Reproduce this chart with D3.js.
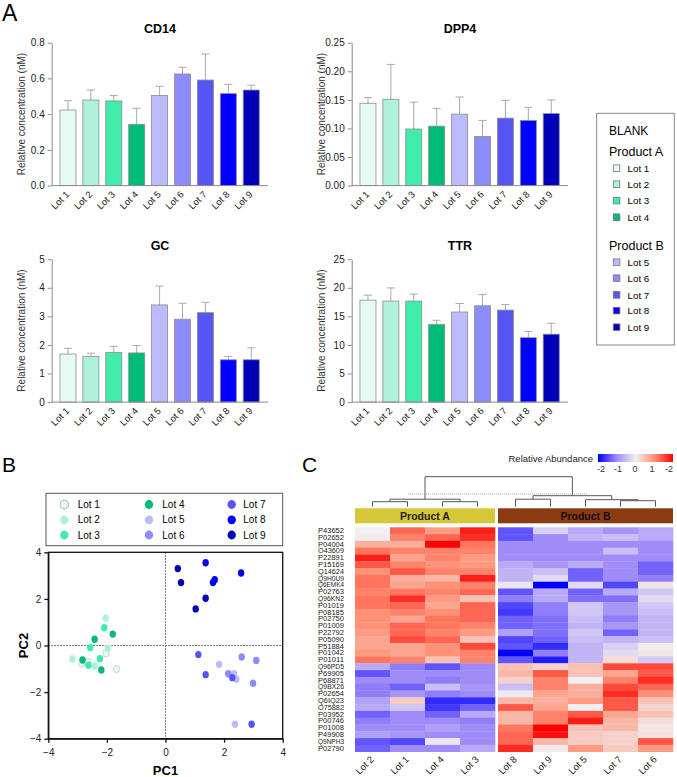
<!DOCTYPE html>
<html>
<head>
<meta charset="utf-8">
<script src="https://cdn.jsdelivr.net/npm/d3@7"></script>
<style>
  body { margin: 0; background: #fff; }
  svg { font-family: "Liberation Sans", Arial, sans-serif; }
</style>
</head>
<body>
<svg id="fig" width="677" height="777"></svg>
<script>
// ---- data ----
const lots = ["Lot 1", "Lot 2", "Lot 3", "Lot 4", "Lot 5", "Lot 6", "Lot 7", "Lot 8", "Lot 9"];

const cd14Mean = [0.423, 0.479, 0.474, 0.343, 0.505, 0.625, 0.591, 0.515, 0.535];
const cd14Sd   = [0.052, 0.056, 0.031, 0.090, 0.051, 0.037, 0.146, 0.052, 0.027];
const dpp4Mean = [0.144, 0.151, 0.099, 0.104, 0.125, 0.086, 0.118, 0.114, 0.126];
const dpp4Sd   = [0.010, 0.061, 0.047, 0.031, 0.030, 0.028, 0.031, 0.023, 0.024];
const gcMean   = [1.68, 1.60, 1.74, 1.72, 3.40, 2.90, 3.13, 1.48, 1.48];
const gcSd     = [0.20, 0.11, 0.21, 0.26, 0.66, 0.56, 0.36, 0.12, 0.42];
const ttrMean  = [17.84, 17.67, 17.67, 13.56, 15.76, 16.85, 16.10, 11.26, 11.88];
const ttrSd    = [0.86, 2.30, 1.21, 0.75, 1.49, 1.96, 0.98, 1.09, 1.91];

const cd14Ticks = [0, 0.2, 0.4, 0.6, 0.8];
const dpp4Ticks = [0, 0.05, 0.10, 0.15, 0.20, 0.25];
const gcTicks   = [0, 1, 2, 3, 4, 5];
const ttrTicks  = [0, 5, 10, 15, 20, 25];

// PCA scores
const pcaLot = [1,1,1,1, 2,2,2,2, 3,3,3,3, 4,4,4,4, 5,5,5,5, 6,6,6,6, 7,7,7,7, 8,8,8,8, 9,9,9,9];
const pc1 = [-2.03,-2.86,-1.67,-2.65, -2.04,-1.97,-3.18,-2.42, -2.09,-2.57,-2.24,-2.63, -1.80,-2.42,-2.83,-2.19,
             1.83,2.34,2.42,2.37, 2.14,2.60,3.10,2.99, 1.12,1.37,2.28,2.94, 1.37,2.58,1.62,1.68, 0.42,0.53,1.37,1.03];
const pc2 = [-0.34,-0.77,-1.01,-0.70, 1.17,-0.12,-0.58,-0.88, 0.76,-0.09,-0.57,-0.85, 0.49,0.27,-0.62,-1.05,
             -0.81,-1.21,-1.45,-3.38, -1.21,-0.49,-0.64,-1.62, -0.39,-1.25,-1.38,-3.38, 3.55,3.11,2.70,2.82, 3.30,2.70,2.03,1.57];
const pcTicks = [-4, -2, 0, 2, 4];

// heatmap
const proteins = ["P43652","P02652","P04004","O43609","P22891","P15169","Q14624","Q9H0U9","Q6EMK4","P02763",
  "Q96KN2","P01019","P08185","P02750","P01009","P22792","P05090","P51884","P01042","P01011",
  "Q96PD5","P69905","P68871","Q9BX26","P02654","Q6IQ23","O75882","P03952","P00746","P01008","P49908","Q9NPH3","P02790"];
const colsA = ["Lot 2", "Lot 1", "Lot 4", "Lot 3"];
const colsB = ["Lot 8", "Lot 9", "Lot 5", "Lot 7", "Lot 6"];
const heatA = [
  [0.0,1.3,0.9,1.8],[0.05,1.1,1.3,1.7],[0.7,0.7,2.0,1.2],[1.2,1.1,1.1,1.1],[1.8,0.8,1.1,0.9],
  [1.4,1.1,1.0,0.9],[1.0,1.4,1.1,1.1],[1.2,0.7,0.6,1.8],[1.2,0.8,1.0,1.1],[1.1,1.2,1.1,1.3],
  [1.2,1.7,0.9,0.5],[1.2,1.3,0.8,1.3],[1.0,1.1,1.0,1.3],[1.0,0.8,1.2,1.3],[1.0,1.3,1.2,1.1],
  [0.9,1.3,1.1,0.9],[0.8,1.5,1.3,0.5],[0.8,0.8,1.0,1.5],[0.9,0.8,1.0,1.1],[1.2,1.1,0.5,1.1],
  [-0.7,-1.1,-1.4,-1.0],[-1.4,-1.0,-1.0,-1.0],[-1.0,-1.0,-1.1,-1.0],[-1.1,-1.3,-0.5,-0.9],[-1.1,-0.9,-1.1,-1.0],
  [-0.8,0.4,-1.7,-1.7],[-0.7,-0.4,-1.6,-1.3],[-1.3,-1.0,-1.3,-0.7],[-1.1,-1.0,-1.0,-1.1],[-1.0,-1.0,-0.8,-1.0],
  [-0.8,-0.9,-1.0,-1.0],[-1.4,-1.5,-0.1,-1.0],[-1.3,-1.0,-1.0,-0.7]
];
const heatB = [
  [-1.4,-0.3,-0.7,-0.9,-0.7],[-1.4,-1.0,-0.6,-0.5,-0.7],[-1.0,-1.0,-1.0,-1.0,-1.0],[-1.0,-1.0,-1.0,-0.5,-1.0],
  [-1.0,-1.0,-1.0,-1.0,-1.0],[-0.7,-0.9,-0.7,-1.0,-1.3],[-0.6,-0.5,-1.3,-1.0,-1.3],[-0.6,-0.2,-1.3,-1.0,-1.1],
  [-0.1,-2.0,-0.2,-1.5,0.1],[-1.4,-0.7,-1.3,-0.7,-0.4],[-1.1,-0.7,-1.2,-1.2,-0.2],[-1.5,-1.1,-0.4,-0.9,-0.4],
  [-1.6,-1.1,-0.4,-0.9,-0.5],[-1.3,-1.2,-0.5,-1.1,-0.6],[-1.3,-1.2,-0.6,-0.9,-0.6],[-0.8,-1.2,-0.4,-1.3,-0.6],
  [-1.5,-1.3,-0.5,-0.6,-0.5],[-1.4,-1.7,-0.6,-0.3,0.05],[-2.0,-1.1,-0.6,-0.2,0.1],[-1.4,-1.8,-0.6,0.2,-0.4],
  [0.5,0.3,0.5,1.5,1.5],[0.6,1.4,0.5,0.8,1.4],[0.3,1.1,0.0,1.1,1.7],[-0.5,1.1,0.7,1.5,1.3],
  [-0.05,0.8,0.7,1.7,1.0],[0.6,0.7,0.9,1.4,0.5],[1.4,0.8,0.0,1.4,0.3],[0.6,1.1,1.4,0.8,0.5],
  [0.6,1.1,1.8,0.6,0.2],[1.2,2.0,0.5,0.6,0.1],[1.3,1.9,0.4,0.3,0.15],[1.3,0.6,0.4,0.3,1.4],[1.7,0.05,0.9,0.4,0.9]
];
// dendrogram (merge heights)
const dendro = {h: 6, children: [
  {h: 1.5, children: [{h: 1, children: [{name: "Lot 2"}, {name: "Lot 1"}]}, {h: 1, children: [{name: "Lot 4"}, {name: "Lot 3"}]}]},
  {h: 2.2, children: [{h: 1.5, children: [{name: "Lot 8"}, {name: "Lot 9"}]},
                      {h: 1.4, children: [{name: "Lot 5"}, {h: 1.2, children: [{name: "Lot 7"}, {name: "Lot 6"}]}]}]}
]};
const cutHeight = 2.54;
const scaleLabels = ["-2", "-1", "0", "1", "-2"];

// ---- styles ----
const lotColor = ["#e6fbf3", "#aef2dc", "#3fecab", "#00bb77", "#bcbcfc", "#8c8cfc", "#5555f5", "#0000ff", "#0000b8"];
const axisGrey = "#8a8a8a";

const svg = d3.select("#fig");
svg.append("rect").attr("width", 677).attr("height", 777).attr("fill", "#fff");

// panel letters
svg.append("text").attr("x", 2).attr("y", 21).attr("font-size", 23).text("A");
svg.append("text").attr("x", 2).attr("y", 472).attr("font-size", 21).text("B");
svg.append("text").attr("x", 302).attr("y", 472).attr("font-size", 21).text("C");

// ---- bar charts ----
function drawBar(title, means, sds, ticks, fmt, dx, dy) {
  const g = svg.append("g").attr("transform", `translate(${dx},${dy})`);
  const x = d3.scaleBand().domain(lots).range([51.7, 267.5]).paddingInner(0.3).paddingOuter(0.36);
  const y = d3.scaleLinear().domain([0, d3.max(ticks)]).range([185.6, 42.7]);

  g.append("text").attr("x", 160).attr("y", 33).attr("text-anchor", "middle")
    .attr("font-size", 12.5).attr("font-weight", "bold").text(title);

  // error bars (upper only)
  g.selectAll(".err").data(lots).enter().append("g").each(function(d, i) {
    const cx = x(d) + x.bandwidth() / 2;
    const sel = d3.select(this);
    sel.append("line").attr("x1", cx).attr("x2", cx)
      .attr("y1", y(means[i])).attr("y2", y(means[i] + sds[i]))
      .attr("stroke", "#aaa").attr("stroke-width", 1);
    sel.append("line").attr("x1", cx - 4).attr("x2", cx + 4)
      .attr("y1", y(means[i] + sds[i])).attr("y2", y(means[i] + sds[i]))
      .attr("stroke", "#aaa").attr("stroke-width", 1);
  });

  g.selectAll(".bar").data(lots).enter().append("rect")
    .attr("x", d => x(d)).attr("width", x.bandwidth())
    .attr("y", (d, i) => y(means[i])).attr("height", (d, i) => y(0) - y(means[i]))
    .attr("fill", (d, i) => lotColor[i])
    .attr("stroke", "#8d8d8d").attr("stroke-width", 0.8);

  const ya = g.append("g").attr("transform", "translate(51.7,0)")
    .call(d3.axisLeft(y).tickValues(ticks).tickFormat(fmt).tickSize(4).tickSizeOuter(0));
  ya.select(".domain").attr("stroke", axisGrey);
  ya.selectAll(".tick line").attr("stroke", axisGrey);
  ya.selectAll(".tick text").attr("font-size", 10).attr("fill", "#222")
    .attr("font-family", "Liberation Sans, Arial, sans-serif");

  g.append("line").attr("x1", 51.7).attr("x2", 268).attr("y1", y(0)).attr("y2", y(0))
    .attr("stroke", axisGrey);

  g.selectAll(".xl").data(lots).enter().append("text")
    .attr("transform", d => `translate(${x(d) + x.bandwidth() / 2 + 2},${y(0) + 9.5}) rotate(-45)`)
    .attr("text-anchor", "end").attr("font-size", 9.5).attr("fill", "#222").text(d => d);

  g.append("text").attr("transform", `translate(25,114) rotate(-90)`)
    .attr("text-anchor", "middle").attr("font-size", 10).attr("fill", "#333")
    .text("Relative concentration (nM)");
}
drawBar("CD14", cd14Mean, cd14Sd, cd14Ticks, d3.format(".1f"), 0, 0);
drawBar("DPP4", dpp4Mean, dpp4Sd, dpp4Ticks, d3.format(".2f"), 300, 0);
drawBar("GC", gcMean, gcSd, gcTicks, d3.format("d"), 0, 216.5);
drawBar("TTR", ttrMean, ttrSd, ttrTicks, d3.format("d"), 300, 216.5);

// legend for bars
const leg = svg.append("g");
leg.append("rect").attr("x", 596.7).attr("y", 113.3).attr("width", 77.6).attr("height", 231.7)
  .attr("fill", "#fff").attr("stroke", "#888").attr("stroke-width", 1);
leg.append("text").attr("x", 609).attr("y", 134.5).attr("font-size", 12).text("BLANK");
leg.append("text").attr("x", 609).attr("y", 156).attr("font-size", 12.5).text("Product A");
leg.append("text").attr("x", 609).attr("y", 249.5).attr("font-size", 12.5).text("Product B");
const legY = [168.3, 184.3, 200.7, 217.3, 262.3, 278.3, 295, 310.7, 327.3];
lots.forEach((l, i) => {
  leg.append("rect").attr("x", 613.3).attr("y", legY[i] - 3.4).attr("width", 6.6).attr("height", 6.6)
    .attr("fill", lotColor[i]).attr("stroke", "#777").attr("stroke-width", 0.8);
  leg.append("text").attr("x", 627.5).attr("y", legY[i] + 3.6).attr("font-size", 9.8).text(l);
});

// ---- PCA ----
const px = d3.scaleLinear().domain([-4, 4]).range([48.3, 282.7]);
const py = d3.scaleLinear().domain([-4, 4]).range([738.7, 552.3]);
const pg = svg.append("g");

pg.append("rect").attr("x", 46).attr("y", 493.3).attr("width", 236.7).attr("height", 52.4)
  .attr("fill", "#fff").attr("stroke", "#555").attr("stroke-width", 1);
const legCols = [[64.3, 77.7], [149, 162.3], [231.7, 243.3]];
const legRows = [504.5, 519.8, 535];
lots.forEach((l, i) => {
  const c = legCols[Math.floor(i / 3)], r = legRows[i % 3];
  pg.append("ellipse").attr("cx", c[0]).attr("cy", r).attr("rx", 4.2).attr("ry", 4.4)
    .attr("fill", lotColor[i]).attr("stroke", i === 0 ? "#999" : "none").attr("stroke-width", 0.8);
  pg.append("text").attr("x", c[1]).attr("y", r + 3.6).attr("font-size", 10).text(l);
});

pg.append("line").attr("x1", px(0)).attr("x2", px(0)).attr("y1", py(4)).attr("y2", py(-4))
  .attr("stroke", "#555").attr("stroke-dasharray", "1.5,1.5");
pg.append("line").attr("x1", px(-4)).attr("x2", px(4)).attr("y1", py(0)).attr("y2", py(0))
  .attr("stroke", "#555").attr("stroke-dasharray", "1.5,1.5");

pg.selectAll(".pt").data(pcaLot).enter().append("ellipse")
  .attr("cx", (d, i) => px(pc1[i])).attr("cy", (d, i) => py(pc2[i]))
  .attr("rx", 3.2).attr("ry", 3.7)
  .attr("fill", d => lotColor[d - 1])
  .attr("stroke", d => d === 1 ? "#bbb" : "none").attr("stroke-width", 0.6);

pg.append("rect").attr("x", px(-4)).attr("y", py(4)).attr("width", px(4) - px(-4)).attr("height", py(-4) - py(4))
  .attr("fill", "none").attr("stroke", "#111").attr("stroke-width", 1.3);

const pxa = pg.append("g").attr("transform", `translate(0,${py(-4)})`)
  .call(d3.axisBottom(px).tickValues(pcTicks).tickSize(4).tickSizeOuter(0));
const pya = pg.append("g").attr("transform", `translate(${px(-4)},0)`)
  .call(d3.axisLeft(py).tickValues(pcTicks).tickSize(4).tickSizeOuter(0));
[pxa, pya].forEach(a => {
  a.select(".domain").attr("stroke", "#111").attr("stroke-width", 1.3);
  a.selectAll(".tick line").attr("stroke", "#111").attr("stroke-width", 1.3);
  a.selectAll(".tick text").attr("font-size", 10).attr("fill", "#222")
    .attr("font-family", "Liberation Sans, Arial, sans-serif");
});
pxa.selectAll(".tick text").attr("dy", "1.05em");
pg.append("text").attr("x", px(0)).attr("y", 775).attr("text-anchor", "middle")
  .attr("font-size", 13).attr("font-weight", "bold").text("PC1");
pg.append("text").attr("transform", `translate(28,${py(0)}) rotate(-90)`).attr("text-anchor", "middle")
  .attr("font-size", 13).attr("font-weight", "bold").text("PC2");

// ---- Heatmap ----
const hg = svg.append("g");
const hxA = d3.scaleBand().domain(colsA).range([355, 495]);
const hxB = d3.scaleBand().domain(colsB).range([498, 673]);
const colX = c => colsA.includes(c) ? hxA(c) : hxB(c);
const hy = d3.scaleBand().domain(proteins).range([527.3, 751.7]);
const heatColor = d3.scaleLinear().domain([-2, -1, 0, 1, 2])
  .range(["#0000ff", "#a08cf8", "#f1eff1", "#ff9276", "#ff0000"]).clamp(true);

proteins.forEach((p, r) => {
  colsA.forEach((c, j) => {
    hg.append("rect").attr("x", hxA(c)).attr("y", hy(p)).attr("width", hxA.bandwidth() + 0.3)
      .attr("height", hy.bandwidth() + 0.3).attr("fill", heatColor(heatA[r][j]));
  });
  colsB.forEach((c, j) => {
    hg.append("rect").attr("x", hxB(c)).attr("y", hy(p)).attr("width", hxB.bandwidth() + 0.3)
      .attr("height", hy.bandwidth() + 0.3).attr("fill", heatColor(heatB[r][j]));
  });
});

hg.selectAll(".rl").data(proteins).enter().append("text")
  .attr("x", 318).attr("y", d => hy(d) + hy.bandwidth() / 2 + 2.3)
  .attr("font-size", 6.3).attr("fill", "#222")
  .attr("textLength", 26).attr("lengthAdjust", "spacingAndGlyphs").text(d => d);

hg.selectAll(".cl").data(colsA.concat(colsB)).enter().append("text")
  .attr("transform", d => `translate(${colX(d) + 17.5 + 2},${760}) rotate(-45)`)
  .attr("text-anchor", "end").attr("font-size", 9.5).attr("fill", "#222").text(d => d);

// group bars
hg.append("rect").attr("x", 355).attr("y", 508.3).attr("width", 140).attr("height", 15).attr("fill", "#d6c63a");
hg.append("rect").attr("x", 498).attr("y", 508.3).attr("width", 175).attr("height", 15).attr("fill", "#8b3a12");
hg.append("text").attr("x", 425).attr("y", 519.6).attr("text-anchor", "middle").attr("font-size", 10.5)
  .attr("font-weight", "bold").attr("fill", "#222").text("Product A");
hg.append("text").attr("x", 585.5).attr("y", 519.6).attr("text-anchor", "middle").attr("font-size", 10.5)
  .attr("font-weight", "bold").attr("fill", "#111").text("Product B");

// dendrogram
const dy = h => 506.7 - h * 5;
const root = d3.hierarchy(dendro);
root.eachAfter(n => {
  n.px = n.children ? d3.mean(n.children, c => c.px) : colX(n.data.name) + 17.5;
  n.h = n.children ? n.data.h : 0;
});
root.each(n => {
  if (!n.children) return;
  const xs = n.children.map(c => c.px);
  hg.append("line").attr("x1", d3.min(xs)).attr("x2", d3.max(xs)).attr("y1", dy(n.h)).attr("y2", dy(n.h))
    .attr("stroke", "#444").attr("stroke-width", 0.9);
  n.children.forEach(c => {
    hg.append("line").attr("x1", c.px).attr("x2", c.px).attr("y1", dy(n.h)).attr("y2", dy(c.h))
      .attr("stroke", "#444").attr("stroke-width", 0.9);
  });
});
hg.append("line").attr("x1", 408).attr("x2", 588).attr("y1", dy(cutHeight)).attr("y2", dy(cutHeight))
  .attr("stroke", "#999").attr("stroke-dasharray", "1,1").attr("stroke-width", 0.8);

// colour key
const grad = svg.append("defs").append("linearGradient").attr("id", "hgrad");
[-2, -1, 0, 1, 2].forEach((v, i) => {
  grad.append("stop").attr("offset", (i * 25) + "%").attr("stop-color", heatColor(v));
});
hg.append("rect").attr("x", 598).attr("y", 454).attr("width", 75).attr("height", 8).attr("fill", "url(#hgrad)");
hg.append("text").attr("x", 593).attr("y", 461.5).attr("text-anchor", "end").attr("font-size", 9.5)
  .attr("fill", "#222").text("Relative Abundance");
const kx = d3.scaleLinear().domain([0, 4]).range([601, 669]);
scaleLabels.forEach((t, i) => {
  hg.append("text").attr("x", kx(i)).attr("y", 472).attr("text-anchor", "middle").attr("font-size", 9)
    .attr("fill", "#333").text(t);
});
</script>
</body>
</html>
